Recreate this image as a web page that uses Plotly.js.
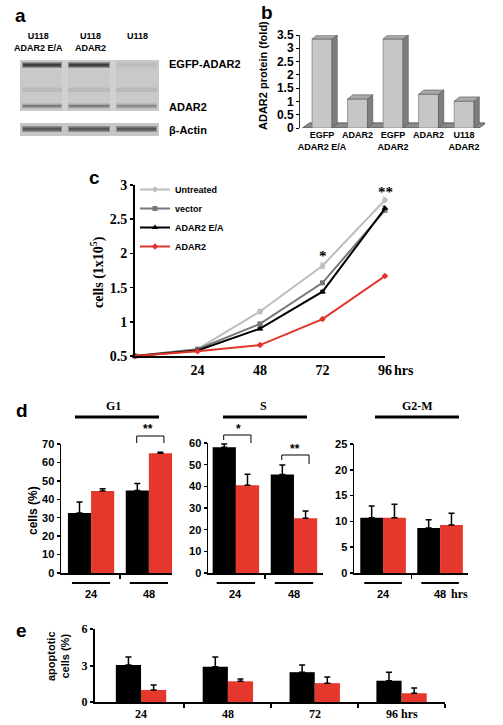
<!DOCTYPE html>
<html><head><meta charset="utf-8">
<script src="https://cdn.plot.ly/plotly-3.0.1.min.js"></script>
<style>html,body{margin:0;padding:0;background:#fff}#chart{width:503px;height:725px}</style>
</head><body><div id="chart"></div>
<script>
// ---------------- data ----------------
const blotLanes = ['U118<br>ADAR2 E/A', 'U118<br>ADAR2', 'U118'];
const blotBands = ['EGFP-ADAR2', 'ADAR2', 'β-Actin'];

const proteinCats = ['EGFP<br>ADAR2 E/A', 'ADAR2', 'EGFP<br>ADAR2', 'ADAR2', 'U118<br>ADAR2'];
const proteinFold = [3.35, 1.09, 3.35, 1.27, 1.01];

const hours = [0, 24, 48, 72, 96];
const hourTicks = [24, 48, 72, 96];
const hourLabels = ['24', '48', '72', '96'];
const growthNames = ['Untreated', 'vector', 'ADAR2 E/A', 'ADAR2'];
const untreated = [0.5, 0.6, 1.15, 1.82, 2.78];
const untreatedErr = [0, 0.01, 0.03, 0.04, 0.04];
const vector = [0.5, 0.6, 0.97, 1.57, 2.63];
const vectorErr = [0, 0.01, 0.02, 0.02, 0.03];
const adar2EA = [0.5, 0.58, 0.9, 1.44, 2.66];
const adar2EAErr = [0, 0.01, 0.02, 0.02, 0.03];
const adar2 = [0.5, 0.57, 0.66, 1.04, 1.67];
const adar2Err = [0, 0.01, 0.01, 0.01, 0.01];

const phases = ['G1', 'S', 'G2-M'];
const cycleGroups = ['24', '48'];
const g1Black = [32.5, 44.8];
const g1BlackErr = [6, 3.8];
const g1Red = [44.5, 65];
const g1RedErr = [1.2, 0.5];
const sBlack = [58, 45.5];
const sBlackErr = [1.5, 4.3];
const sRed = [40.5, 25.3];
const sRedErr = [5.1, 3.3];
const g2Black = [10.7, 8.7];
const g2BlackErr = [2.3, 1.6];
const g2Red = [10.7, 9.3];
const g2RedErr = [2.6, 2.3];

const apoGroups = ['24', '48', '72', '96 hrs'];
const apoBlack = [3.04, 2.9, 2.45, 1.75];
const apoBlackErr = [0.66, 0.8, 0.6, 0.7];
const apoRed = [0.99, 1.7, 1.55, 0.72];
const apoRedErr = [0.4, 0.2, 0.5, 0.43];

// ---------------- helpers ----------------
const W = 503, H = 725;
const px = v => v / W;
const py = v => 1 - v / H;
const SANS = 'Liberation Sans, Arial, sans-serif';
const SERIF = 'Liberation Serif, Times New Roman, serif';
const RED = '#e5372c';
const f = (family, size, extra) => Object.assign({family, size, color: '#000', weight: 'bold'}, extra || {});

function ann(text, x, y, font, extra) {
  return Object.assign({text, x: px(x), y: py(y), xref: 'paper', yref: 'paper', showarrow: false,
    xanchor: 'center', yanchor: 'middle', font}, extra || {});
}
function axAnn(text, xref, x, yPix, font) {
  return {text, x, y: py(yPix), xref, yref: 'paper', showarrow: false, xanchor: 'center', yanchor: 'middle', font};
}
function rectPx(x0, y0, x1, y1, fill) {
  return {type: 'rect', xref: 'paper', yref: 'paper', x0: px(x0), x1: px(x1), y0: py(y1), y1: py(y0),
    fillcolor: fill, line: {width: 0}, layer: 'above'};
}
function lineAx(xref, xa, xb, yPix, width) {
  return {type: 'line', xref, yref: 'paper', x0: xa, x1: xb, y0: py(yPix), y1: py(yPix),
    line: {color: '#000', width}};
}
function axBase(extra) {
  return Object.assign({showgrid: false, zeroline: false, showline: true, linecolor: '#000', linewidth: 1.5,
    ticks: 'outside', ticklen: 3, tickwidth: 1.5, tickcolor: '#000', fixedrange: true}, extra);
}
const noErr = arr => arr.map(() => 0);

const traces = [];
const shapes = [];
const annotations = [];

// ---------------- panel a : blot ----------------
annotations.push(ann('a', 20, 15, f(SANS, 19)));
const laneX = [[22, 62], [68, 110], [116, 157]];
const laneCx = [38, 90, 137];
blotLanes.forEach((t, i) => annotations.push(ann(t, laneCx[i], i === 2 ? 36 : 42, f(SANS, 9))));
shapes.push(rectPx(20, 60, 159, 111, '#c9c9c9'));
shapes.push(rectPx(62, 60, 68, 111, '#d0d0d0'));
shapes.push(rectPx(110, 60, 116, 111, '#d0d0d0'));
const egfpOuter = ['#8f8f8f', '#8f8f8f', '#c2c2c2'];
const egfpInner = ['#3e3e3e', '#3e3e3e', '#bcbcbc'];
const adOuter = ['#a8a8a8', '#a8a8a8', '#ababab'];
const adInner = ['#7a7a7a', '#7a7a7a', '#8a8a8a'];
laneX.forEach((l, i) => {
  shapes.push(rectPx(l[0], 62, l[1], 68, egfpOuter[i]));
  shapes.push(rectPx(l[0] + 1, 63.5, l[1] - 1, 66.5, egfpInner[i]));
  shapes.push(rectPx(l[0], 87.5, l[1], 92, '#b9b9b9'));
  shapes.push(rectPx(l[0], 103.5, l[1], 108.5, adOuter[i]));
  shapes.push(rectPx(l[0] + 1, 105, l[1] - 1, 107, adInner[i]));
});
shapes.push(rectPx(20, 123, 159, 136, '#c6c6c6'));
laneX.forEach(l => {
  shapes.push(rectPx(l[0], 126, l[1], 132, '#8e8e8e'));
  shapes.push(rectPx(l[0] + 1, 127.5, l[1] - 1, 130.5, '#575757'));
});
annotations.push(ann(blotBands[0], 167, 64, f(SANS, 11), {xanchor: 'left'}));
annotations.push(ann(blotBands[1], 167, 107, f(SANS, 11), {xanchor: 'left'}));
annotations.push(ann(blotBands[2], 167, 130, f(SANS, 11), {xanchor: 'left'}));

// ---------------- panel b : 3D-like bars ----------------
annotations.push(ann('b', 267, 12, f(SANS, 19)));
annotations.push(ann('ADAR2 protein (fold)', 263, 76, f(SANS, 11), {textangle: -90}));
const bPos = proteinCats.map((_, i) => i);
const bw = 0.56, ddx = 0.15, ddy = 0.16;
shapes.push({type: 'path', xref: 'x', yref: 'y', layer: 'below',
  path: `M-0.55,0 L4.42,0 L${4.42 + 0.2},0.19 L${-0.55 + 0.2},0.19 Z`,
  fillcolor: '#8c8c8c', line: {color: '#555', width: 1}});
traces.push({type: 'bar', x: bPos, y: proteinFold, width: bw, offset: -bw / 2, xaxis: 'x', yaxis: 'y',
  marker: {color: '#c6c6c6', line: {color: '#6a6a6a', width: 0.6}}, showlegend: false, hoverinfo: 'skip'});
bPos.forEach((xc, i) => {
  const v = proteinFold[i], l = xc - bw / 2, r = xc + bw / 2;
  shapes.push({type: 'path', xref: 'x', yref: 'y', path: `M${r},0 L${r + ddx},${ddy} L${r + ddx},${v + ddy} L${r},${v} Z`,
    fillcolor: '#7e7e7e', line: {color: '#555', width: 0.6}});
  shapes.push({type: 'path', xref: 'x', yref: 'y', path: `M${l},${v} L${l + ddx},${v + ddy} L${r + ddx},${v + ddy} L${r},${v} Z`,
    fillcolor: '#a9a9a9', line: {color: '#555', width: 0.6}});
});

// ---------------- panel c : growth curves ----------------
annotations.push(ann('c', 94, 178, f(SANS, 19)));
annotations.push(ann('cells (1x10<sup>5</sup>)', 98, 272, f(SERIF, 14), {textangle: -90}));
const growth = [
  [untreated, untreatedErr, '#bdbdbd', 'diamond', 5],
  [vector, vectorErr, '#777777', 'square', 5],
  [adar2EA, adar2EAErr, '#000000', 'triangle-up', 6],
  [adar2, adar2Err, '#e0352b', 'diamond', 5]
];
growth.forEach((g, i) => {
  traces.push({type: 'scatter', mode: 'lines+markers', x: hours, y: g[0], name: growthNames[i],
    xaxis: 'x2', yaxis: 'y2', cliponaxis: false, line: {color: g[2], width: 2},
    marker: {color: g[2], symbol: g[3], size: g[4]},
    error_y: {type: 'data', array: g[1], visible: true, color: g[2], thickness: 1, width: 2.5},
    hoverinfo: 'skip'});
});
annotations.push({text: '*', x: hours[3], y: untreated[3] + untreatedErr[3], xref: 'x2', yref: 'y2', showarrow: false,
  xanchor: 'center', yanchor: 'bottom', yshift: -3, font: f(SERIF, 15)});
annotations.push({text: '**', x: hours[4], y: untreated[4] + untreatedErr[4], xref: 'x2', yref: 'y2', showarrow: false,
  xanchor: 'center', yanchor: 'bottom', yshift: -5, font: f(SERIF, 15)});
annotations.push(ann('hrs', 392, 370, f(SERIF, 14), {xanchor: 'left'}));

// ---------------- panel d : cell cycle ----------------
annotations.push(ann('d', 22, 410, f(SANS, 19)));
annotations.push(ann('cells (%)', 33, 511, f(SANS, 12), {textangle: -90}));
const dPos = cycleGroups.map((_, i) => i);
const dSets = [
  {ax: '3', black: g1Black, be: g1BlackErr, red: g1Red, re: g1RedErr},
  {ax: '4', black: sBlack, be: sBlackErr, red: sRed, re: sRedErr},
  {ax: '5', black: g2Black, be: g2BlackErr, red: g2Red, re: g2RedErr}
];
dSets.forEach(s => {
  traces.push({type: 'bar', x: dPos, y: s.black, width: 0.4, offset: -0.4, xaxis: 'x' + s.ax, yaxis: 'y' + s.ax,
    marker: {color: '#000'}, showlegend: false, hoverinfo: 'skip',
    error_y: {type: 'data', array: s.be, arrayminus: noErr(s.be), symmetric: false, color: '#000', thickness: 1.5, width: 3}});
  traces.push({type: 'bar', x: dPos, y: s.red, width: 0.4, offset: 0, xaxis: 'x' + s.ax, yaxis: 'y' + s.ax,
    marker: {color: RED}, showlegend: false, hoverinfo: 'skip',
    error_y: {type: 'data', array: s.re, arrayminus: noErr(s.re), symmetric: false, color: '#000', thickness: 1.5, width: 3}});
  dPos.forEach((g, i) => {
    shapes.push(lineAx('x' + s.ax, g - 0.33, g + 0.33, 583, 2));
    annotations.push(axAnn(cycleGroups[i], 'x' + s.ax, g, 594, f(SANS, 11)));
  });
});
annotations.push(ann('hrs', 449, 594, f(SERIF, 12), {xanchor: 'left'}));
const phaseTitle = [[113, 75, 159], [263, 223, 307], [417, 375, 459]];
phases.forEach((p, i) => {
  annotations.push(ann(p, phaseTitle[i][0], 406, f(SERIF, 12)));
  shapes.push({type: 'line', xref: 'paper', yref: 'paper', x0: px(phaseTitle[i][1]), x1: px(phaseTitle[i][2]),
    y0: py(417), y1: py(417), line: {color: '#000', width: 3}});
});
function bracket(xref, g, top, legL, legR) {
  shapes.push({type: 'path', xref, yref: 'paper',
    path: `M${g - 0.21},${py(legL)} L${g - 0.21},${py(top)} L${g + 0.26},${py(top)} L${g + 0.26},${py(legR)}`,
    line: {color: '#000', width: 1}});
}
bracket('x3', dPos[1], 436, 443, 443);
annotations.push(ann('**', 148, 429, f(SANS, 12)));
bracket('x4', dPos[0], 435, 440, 443);
annotations.push(ann('*', 238, 429, f(SANS, 12)));
bracket('x4', dPos[1], 455, 460, 464);
annotations.push(ann('**', 295, 449, f(SANS, 12)));

// ---------------- panel e : apoptosis ----------------
annotations.push(ann('e', 21, 630, f(SANS, 19)));
annotations.push(ann('apoptotic<br>cells (%)', 58, 656, f(SANS, 11), {textangle: -90}));
const ePos = apoGroups.map((_, i) => i);
traces.push({type: 'bar', x: ePos, y: apoBlack, width: 0.29, offset: -0.29, xaxis: 'x6', yaxis: 'y6',
  marker: {color: '#000'}, showlegend: false, hoverinfo: 'skip',
  error_y: {type: 'data', array: apoBlackErr, arrayminus: noErr(apoBlackErr), symmetric: false, color: '#000', thickness: 1.5, width: 3}});
traces.push({type: 'bar', x: ePos, y: apoRed, width: 0.29, offset: 0, xaxis: 'x6', yaxis: 'y6',
  marker: {color: RED}, showlegend: false, hoverinfo: 'skip',
  error_y: {type: 'data', array: apoRedErr, arrayminus: noErr(apoRedErr), symmetric: false, color: '#000', thickness: 1.5, width: 3}});
ePos.forEach((g, i) => annotations.push(axAnn(apoGroups[i], 'x6', g, 714, f(SERIF, 12))));

// ---------------- layout ----------------
const layout = {
  width: W, height: H, margin: {l: 0, r: 0, t: 0, b: 0}, paper_bgcolor: '#fff', plot_bgcolor: 'rgba(0,0,0,0)',
  barmode: 'overlay', showlegend: true,
  legend: {x: px(135), y: py(175), xanchor: 'left', yanchor: 'top', bgcolor: 'rgba(0,0,0,0)',
    font: f(SANS, 9), tracegroupgap: 0, itemwidth: 30},
  xaxis: axBase({domain: [px(300), px(485)], range: [-0.62, 4.59], showline: false, ticks: '', tickangle: 0,
    tickvals: bPos, ticktext: proteinCats, tickfont: f(SANS, 9), anchor: 'y'}),
  yaxis: axBase({domain: [py(128), py(35)], range: [0, 3.5], dtick: 0.5, linecolor: '#333', linewidth: 1,
    tickwidth: 1, tickfont: f(SANS, 12), anchor: 'x'}),
  xaxis2: axBase({domain: [px(135), px(385)], range: [0, 96], tickvals: hourTicks, ticktext: hourLabels,
    ticks: '', linewidth: 2, tickangle: 0, tickfont: f(SERIF, 14), anchor: 'y2'}),
  yaxis2: axBase({domain: [py(356), py(185)], range: [0.5, 3], dtick: 0.5, linewidth: 2, ticklen: 3,
    tickfont: f(SERIF, 14), anchor: 'x2'}),
  xaxis3: axBase({domain: [px(61), px(172)], range: [-0.52, 1.4], tickvals: [0.5], showticklabels: false, ticklen: 4, anchor: 'y3'}),
  yaxis3: axBase({domain: [py(573), py(444)], range: [0, 70], dtick: 10, tickfont: f(SANS, 11), anchor: 'x3'}),
  xaxis4: axBase({domain: [px(208), px(323)], range: [-0.48, 1.5], tickvals: [0.5], showticklabels: false, ticklen: 4, anchor: 'y4'}),
  yaxis4: axBase({domain: [py(573), py(443)], range: [0, 60], dtick: 10, tickfont: f(SANS, 11), anchor: 'x4'}),
  xaxis5: axBase({domain: [px(354), px(468)], range: [-0.51, 1.49], tickvals: [0.5], showticklabels: false, ticklen: 4, anchor: 'y5'}),
  yaxis5: axBase({domain: [py(573), py(444)], range: [0, 25], dtick: 5, tickfont: f(SANS, 11), anchor: 'x5'}),
  xaxis6: axBase({domain: [px(95), px(445)], range: [-0.53, 3.5], tickvals: [0.5, 1.5, 2.5, 3.5], showticklabels: false,
    ticklen: 4, linewidth: 2, tickwidth: 2, anchor: 'y6'}),
  yaxis6: axBase({domain: [py(702), py(629)], range: [0, 6], tickvals: [0, 3, 6], linewidth: 2, tickwidth: 2,
    tickfont: f(SERIF, 12), anchor: 'x6'}),
  shapes, annotations
};

Plotly.newPlot('chart', traces, layout, {staticPlot: true, displayModeBar: false});
</script>
</body></html>
